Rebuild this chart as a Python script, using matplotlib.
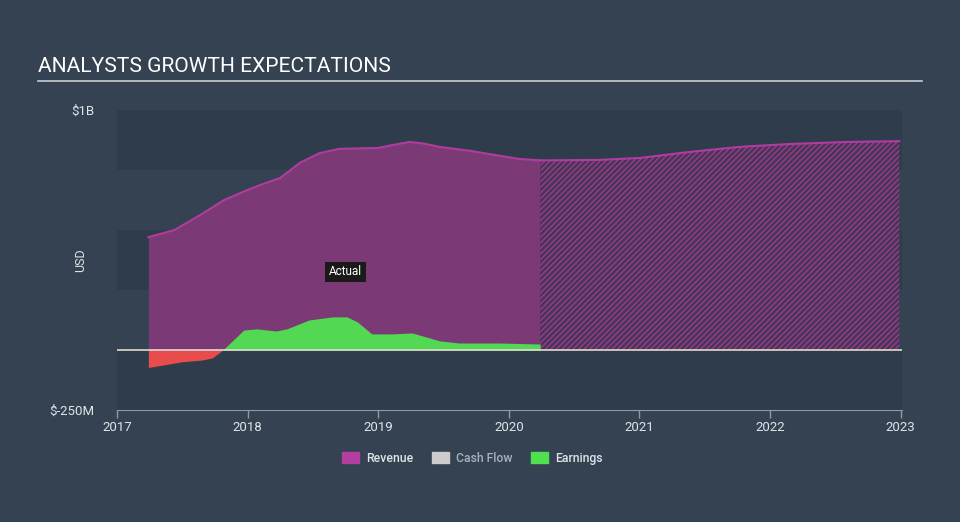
import matplotlib.pyplot as plt
import numpy as np

plt.rcParams['font.family'] = ['Roboto', 'DejaVu Sans']
plt.rcParams['hatch.linewidth'] = 0.9

# revenue, actual (years, USD billions)
rev_x = [2017.24, 2017.44, 2017.63, 2017.82, 2018.0, 2018.11, 2018.25, 2018.40,
         2018.55, 2018.70, 2018.85, 2019.0, 2019.12, 2019.24, 2019.35, 2019.47,
         2019.70, 2019.92, 2020.08, 2020.24]
rev_y = [0.47, 0.50, 0.56, 0.625, 0.667, 0.69, 0.717, 0.78,
         0.82, 0.838, 0.84, 0.842, 0.855, 0.867, 0.86, 0.846,
         0.83, 0.81, 0.796, 0.79]

# revenue, analyst forecast
fc_x = [2020.24, 2020.69, 2021.0, 2021.38, 2021.76, 2022.14, 2022.60, 2022.99]
fc_y = [0.79, 0.792, 0.80, 0.825, 0.846, 0.858, 0.867, 0.87]

# earnings, actual
earn_x = [2017.24, 2017.50, 2017.65, 2017.73, 2017.81, 2017.97, 2018.07, 2018.22, 2018.30,
          2018.47, 2018.65, 2018.76, 2018.84, 2018.95, 2019.11, 2019.26, 2019.31,
          2019.47, 2019.62, 2019.92, 2020.24]
earn_y = [-0.073, -0.049, -0.042, -0.033, 0.0, 0.083, 0.088, 0.079, 0.088,
          0.125, 0.138, 0.138, 0.117, 0.067, 0.067, 0.071, 0.063,
          0.038, 0.029, 0.029, 0.025]

bg = '#344252'
fig = plt.figure(figsize=(9.6, 5.22), dpi=100, facecolor=bg)
ax = fig.add_axes([0.1219, 0.2146, 0.8177, 0.5747])
ax.set_facecolor(bg)

# alternating background bands
for lo, hi in [(0.75, 1.0), (0.25, 0.5), (-0.25, 0.0)]:
    ax.axhspan(lo, hi, color='#2e3c4b', lw=0, zorder=0)

ex = np.array(earn_x)
ey = np.array(earn_y)

ax.fill_between(rev_x, 0, rev_y, color='#7b3a75', lw=0, zorder=1)
ax.plot(rev_x, rev_y, color='#b03ca0', lw=1.5, zorder=3)
ax.fill_between(fc_x, 0, fc_y, facecolor='#4b3557', edgecolor='#9c3d93',
                hatch='//////', lw=0, zorder=1)
ax.plot(fc_x, fc_y, color='#b03ca0', lw=1.5, zorder=3)

ax.fill_between(ex, 0, ey, where=ey >= 0, interpolate=True, color='#52d853', lw=0, zorder=2)
ax.fill_between(ex, 0, ey, where=ey <= 0, interpolate=True, color='#e84c4c', lw=0, zorder=2)

ax.axhline(0, color='#e0dcd0', lw=1.2, zorder=4)

ax.text(2018.75, 0.325, 'Actual', color='white', fontsize=8.5, ha='center', va='center',
        bbox=dict(boxstyle='square,pad=0.3', fc='#1a1a1a', ec='none'), zorder=5)

ax.set_xlim(2017, 2023.01)
ax.set_ylim(-0.25, 1.0)
ax.set_xticks(range(2017, 2024))
ax.set_xticklabels([str(y) for y in range(2017, 2024)])
ax.set_yticks([-0.25, 1.0])
ax.set_yticklabels(['$-250M', '$1B'])
ax.tick_params(axis='x', colors='#8d99a6', labelcolor='#e0e4e8', labelsize=9.5,
               length=6, width=1, pad=2)
ax.tick_params(axis='y', length=0, labelcolor='#e0e4e8', labelsize=9.5, pad=16)
for s in ['top', 'right', 'left']:
    ax.spines[s].set_visible(False)
ax.spines['bottom'].set_color('#8d99a6')
ax.set_ylabel('USD', color='#e0e4e8', fontsize=9, labelpad=4)
ax.yaxis.set_label_coords(-0.038, 0.5)

fig.text(0.04, 0.855, 'ANALYSTS GROWTH EXPECTATIONS', color='white', fontsize=15.1,
         ha='left', va='bottom')
fig.add_artist(plt.Line2D([0.04, 0.96], [0.845, 0.845], color='#c8ccd0', lw=1.2))

# legend
handles = [plt.Rectangle((0, 0), 1, 1, color=c) for c in ['#b23ea0', '#cccccc', '#4fe04f']]
leg = fig.legend(handles, ['Revenue', 'Cash Flow', 'Earnings'], loc='center',
                 bbox_to_anchor=(0.492, 0.122), ncol=3, frameon=False, fontsize=8.8,
                 handlelength=1.4, handleheight=1.0, columnspacing=1.5, handletextpad=0.6)
for t, c in zip(leg.get_texts(), ['#e0e4e8', '#a8b0b8', '#e0e4e8']):
    t.set_color(c)
    t.set_fontweight('medium')

fig.savefig('out.png', dpi=100, facecolor=bg)
